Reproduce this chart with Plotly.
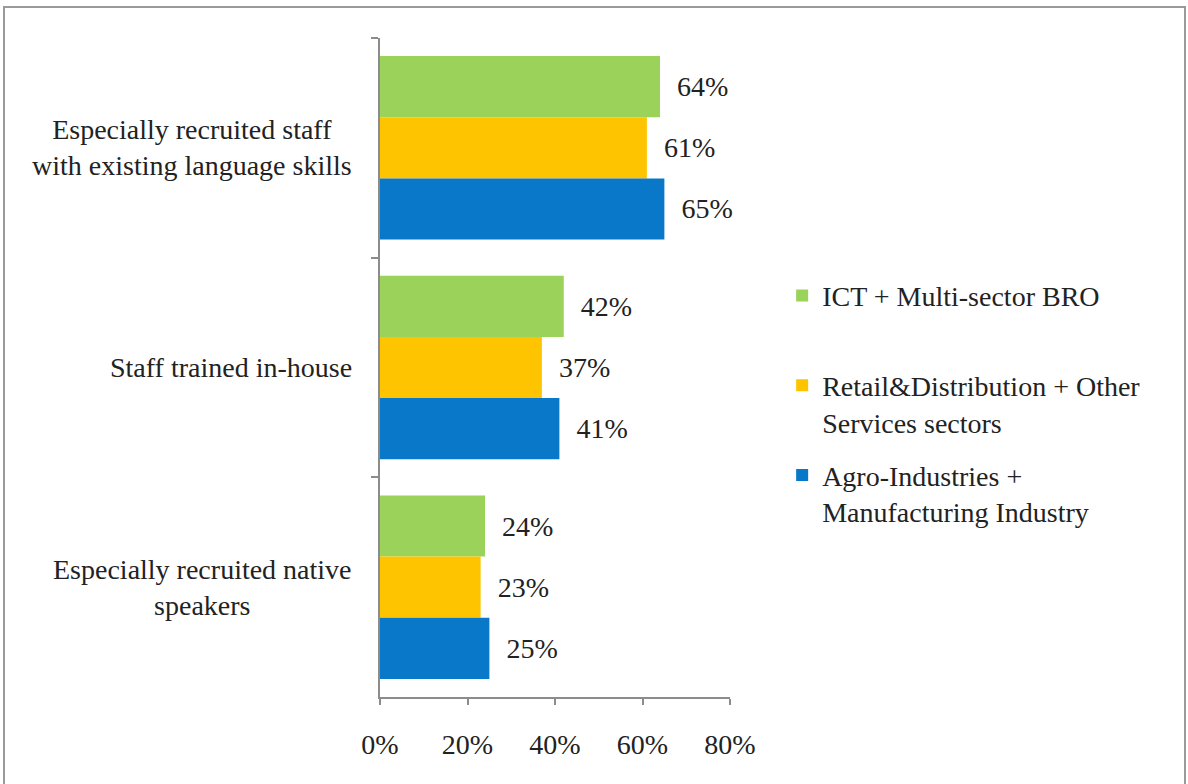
import plotly.graph_objects as go

# Survey categories (top to bottom) and the three sector groups
categories = [
    "Especially recruited staff<br>with existing language skills",
    "Staff trained in-house",
    "Especially recruited native<br>speakers",
]
series_names = [
    "ICT + Multi-sector BRO<br>\u00a0",
    "Retail&Distribution + Other<br>Services sectors",
    "Agro-Industries +<br>Manufacturing Industry",
]
ict_values = [64, 42, 24]
retail_values = [61, 37, 23]
agro_values = [65, 41, 25]
x_tick_values = [0, 20, 40, 60, 80]
x_tick_labels = ["0%", "20%", "40%", "60%", "80%"]

colors = ["#9AD25A", "#FFC400", "#0A78C8"]
FONT = "Liberation Serif"
FS = 28
TEXT = "#222222"
AXIS_GREY = "#8c8c8c"

fig = go.Figure()
for name, vals, col in zip(series_names, [ict_values, retail_values, agro_values], colors):
    fig.add_trace(go.Bar(
        y=categories,
        x=vals,
        name=name,
        orientation="h",
        marker=dict(color=col, line=dict(width=0)),
        text=vals,
        texttemplate="\u00a0\u00a0%{x}%",
        textposition="outside",
        textfont=dict(family=FONT, size=FS, color=TEXT),
        constraintext="none",
        cliponaxis=False,
        legendgroup=name,
    ))

# Category labels, centred line by line, placed left of the axis
for cat in categories:
    fig.add_annotation(
        x=0, xref="paper", xanchor="right", xshift=-26,
        y=cat, yref="y", yanchor="middle",
        text=cat, align="center", showarrow=False,
        font=dict(family=FONT, size=FS, color=TEXT),
    )

# Outer frame
fig.add_shape(
    type="rect", xref="paper", yref="paper",
    x0=(4 - 380) / 350, x1=(1185 - 380) / 350,
    y0=(697 - 800) / 659, y1=1 + 31 / 659,
    line=dict(color="#9a9a9a", width=2), fillcolor="rgba(0,0,0,0)",
    layer="below",
)

fig.update_layout(
    width=1188, height=784, autosize=False,
    margin=dict(l=380, r=458, t=38, b=87),
    paper_bgcolor="white", plot_bgcolor="white",
    barmode="group", bargap=0.165, bargroupgap=0,
    font=dict(family=FONT, size=FS, color=TEXT),
    showlegend=True,
    legend=dict(
        x=1.149, xanchor="left", y=0.445, yanchor="middle",
        valign="top", tracegroupgap=14,
        font=dict(family=FONT, size=FS, color=TEXT),
        bgcolor="rgba(0,0,0,0)",
    ),
    xaxis=dict(
        range=[0, 80], tickvals=x_tick_values, ticktext=x_tick_labels,
        showgrid=False, zeroline=False,
        showline=True, linecolor=AXIS_GREY, linewidth=1.5,
        ticks="outside", ticklen=6, tickcolor=AXIS_GREY, tickwidth=1.5,
        ticklabelstandoff=16,
        tickfont=dict(family=FONT, size=FS, color=TEXT),
    ),
    yaxis=dict(
        categoryorder="array", categoryarray=categories,
        autorange="reversed",
        showticklabels=False, showgrid=False, zeroline=False,
        showline=True, linecolor=AXIS_GREY, linewidth=1.5,
        ticks="outside", tickson="boundaries", ticklen=7,
        tickcolor=AXIS_GREY, tickwidth=1.5,
    ),
)

fig.write_html("out.html")
